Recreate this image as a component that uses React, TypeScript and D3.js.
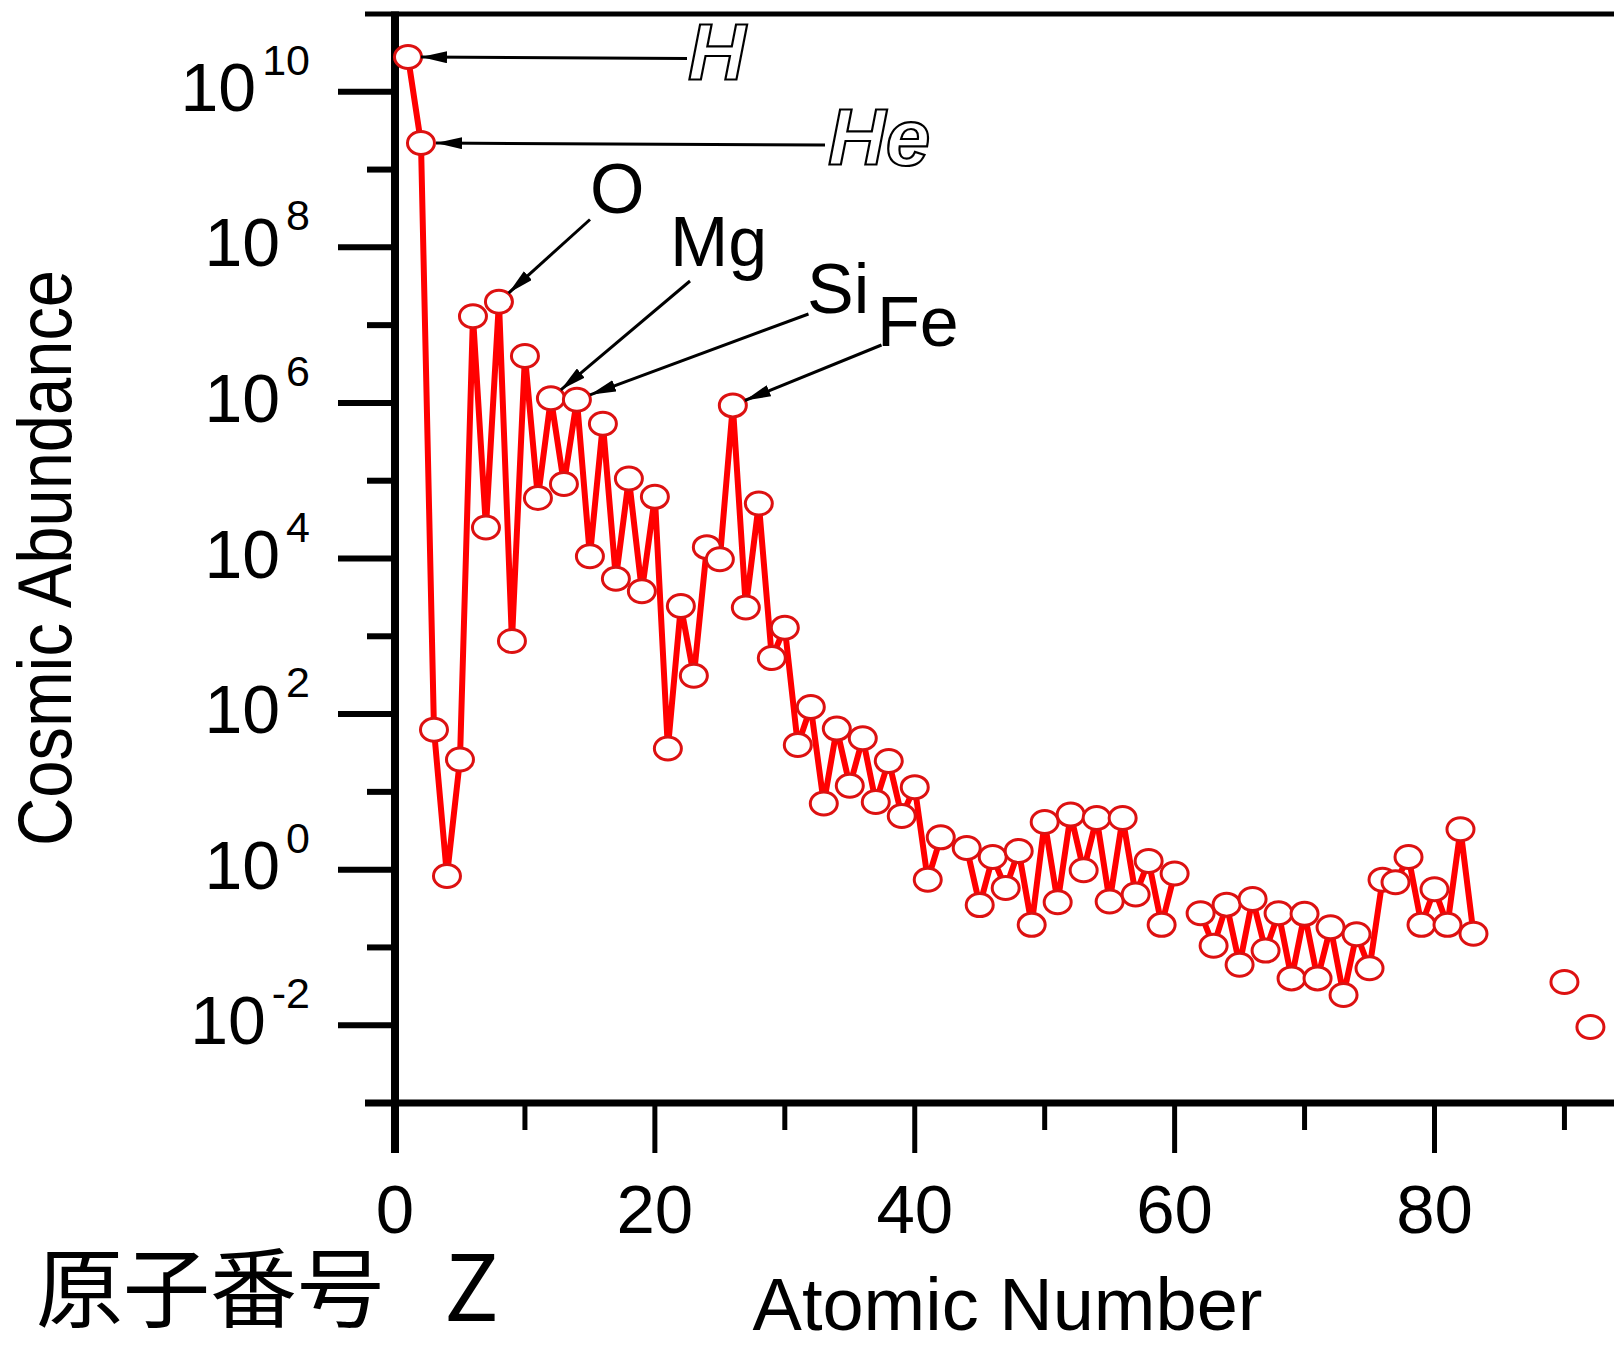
import { useRef, useEffect } from 'react';
import * as d3 from 'd3';

// atomic number and abundance (Si = 10^6)
const atomicNumber = [
  1, 2, 3, 4, 5, 6, 7, 8, 9, 10, 11, 12, 13, 14, 15, 16, 17, 18, 19, 20,
  21, 22, 23, 24, 25, 26, 27, 28, 29, 30, 31, 32, 33, 34, 35, 36, 37, 38, 39, 40,
  41, 42, 44, 45, 46, 47, 48, 49, 50, 51, 52, 53, 54, 55, 56, 57, 58, 59, 60,
  62, 63, 64, 65, 66, 67, 68, 69, 70, 71, 72, 73, 74, 75, 76, 77, 78, 79, 80,
  81, 82, 83, 90, 92,
];
const abundance = [
  2.8e10, 2.2e9, 63, 0.83, 26, 1.3e7, 2.5e4, 2.0e7, 870, 4.0e6,
  6.0e4, 1.15e6, 9.1e4, 1.1e6, 1.07e4, 5.4e5, 5500, 1.07e5, 3800, 6.2e4,
  36, 2450, 310, 1.4e4, 9800, 9.3e5, 2340, 5.1e4, 525, 1290,
  40, 123, 7.1, 65, 12, 49, 7.4, 25, 4.9, 11.5,
  0.74, 2.6, 1.9, 0.35, 1.45, 0.58, 1.74, 0.195, 4.1, 0.38,
  5.1, 0.98, 4.6, 0.39, 4.6, 0.48, 1.29, 0.195, 0.89,
  0.275, 0.105, 0.355, 0.06, 0.42, 0.091, 0.275, 0.04, 0.27, 0.04,
  0.182, 0.0245, 0.148, 0.054, 0.74, 0.69, 1.45, 0.195, 0.56,
  0.195, 3.3, 0.15, 0.036, 0.0095,
];

const yTickExponents = [10, 8, 6, 4, 2, 0, -2];
const xTickLabels = [0, 20, 40, 60, 80];

const labelText = ['H', 'He', 'O', 'Mg', 'Si', 'Fe'];
const labelZ = [1, 2, 8, 12, 14, 26];

const W = 1614;
const H = 1346;

export default function App() {
  const svgRef = useRef(null);

  useEffect(() => {
    const svg = d3.select(svgRef.current);
    svg.selectAll('*').remove();

    const font = "'Liberation Sans', Arial, Helvetica, sans-serif";
    const cjk = "'Noto Sans CJK JP', 'Noto Sans CJK SC', sans-serif";
    const x = d3.scaleLinear().domain([0, 80]).range([395, 1434.5]);
    const y = d3.scaleLog().domain([1e-3, 1e11]).range([1103, 14]);
    const axisY = y(1e-3);

    svg.append('rect').attr('width', W).attr('height', H).attr('fill', '#fff');

    const defs = svg.append('defs');
    defs.append('marker')
      .attr('id', 'arrow')
      .attr('viewBox', '0 0 26 12')
      .attr('refX', 26).attr('refY', 6)
      .attr('markerWidth', 26).attr('markerHeight', 12)
      .attr('markerUnits', 'userSpaceOnUse')
      .attr('orient', 'auto')
      .append('path')
      .attr('d', 'M0,0L26,6L0,12Z')
      .attr('fill', '#000');

    // frame
    const frame = svg.append('g').attr('stroke', '#000');
    frame.append('line')
      .attr('x1', 365).attr('x2', W)
      .attr('y1', y(1e11)).attr('y2', y(1e11))
      .attr('stroke-width', 5);
    frame.append('line')
      .attr('x1', 365).attr('x2', W)
      .attr('y1', axisY).attr('y2', axisY)
      .attr('stroke-width', 7);
    frame.append('line')
      .attr('x1', x(0)).attr('x2', x(0))
      .attr('y1', 11.5).attr('y2', axisY + 50)
      .attr('stroke-width', 8);

    // y ticks
    const yTicks = d3.range(-2, 11, 1);
    frame.selectAll('line.ytick')
      .data(yTicks)
      .join('line')
      .attr('class', 'ytick')
      .attr('x1', d => (d % 2 === 0 ? 338 : 367))
      .attr('x2', x(0))
      .attr('y1', d => y(Math.pow(10, d)))
      .attr('y2', d => y(Math.pow(10, d)))
      .attr('stroke-width', 6);

    // x ticks
    frame.selectAll('line.xtick')
      .data(d3.range(10, 100, 10))
      .join('line')
      .attr('class', 'xtick')
      .attr('x1', d => x(d)).attr('x2', d => x(d))
      .attr('y1', axisY)
      .attr('y2', d => axisY + (d % 20 === 0 ? 50 : 27))
      .attr('stroke-width', 5);

    // x tick labels
    svg.append('g')
      .selectAll('text')
      .data(xTickLabels)
      .join('text')
      .attr('x', d => x(d))
      .attr('y', 1233)
      .attr('text-anchor', 'middle')
      .attr('font-family', font)
      .attr('font-size', 69)
      .text(d => d);

    // y tick labels 10^n
    const yLab = svg.append('g')
      .selectAll('text')
      .data(yTickExponents)
      .join('text')
      .attr('x', 310)
      .attr('y', d => y(Math.pow(10, d)) + 19)
      .attr('text-anchor', 'end')
      .attr('font-family', font);
    yLab.append('tspan').attr('font-size', 68).text('10');
    yLab.append('tspan')
      .attr('font-size', 43)
      .attr('dx', 6)
      .attr('dy', -36)
      .text(d => d);

    // axis titles
    svg.append('text')
      .attr('transform', 'translate(71,558) rotate(-90)')
      .attr('text-anchor', 'middle')
      .attr('font-family', font)
      .attr('font-size', 76)
      .attr('textLength', 576)
      .attr('lengthAdjust', 'spacingAndGlyphs')
      .text('Cosmic Abundance');

    svg.append('text')
      .attr('x', 1007.5)
      .attr('y', 1330)
      .attr('text-anchor', 'middle')
      .attr('font-family', font)
      .attr('font-size', 74)
      .text('Atomic Number');

    svg.append('text')
      .attr('x', 36)
      .attr('y', 1321)
      .attr('font-family', cjk)
      .attr('font-size', 87)
      .text('原子番号');
    svg.append('text')
      .attr('x', 444)
      .attr('y', 1321)
      .attr('font-family', cjk)
      .attr('font-size', 91)
      .text('Z');

    // data: fill a 1..92 series with gaps for missing elements
    const byZ = new Map(atomicNumber.map((z, i) => [z, abundance[i]]));
    const series = d3.range(1, 93).map(z => ({ z, v: byZ.has(z) ? byZ.get(z) : null }));
    const points = atomicNumber.map((z, i) => ({ z, v: abundance[i] }));

    const line = d3.line()
      .defined(d => d.v != null)
      .x(d => x(d.z))
      .y(d => y(d.v));

    svg.append('path')
      .datum(series)
      .attr('d', line)
      .attr('fill', 'none')
      .attr('stroke', '#ff0000')
      .attr('stroke-width', 6);

    svg.append('g')
      .selectAll('ellipse')
      .data(points)
      .join('ellipse')
      .attr('cx', d => x(d.z))
      .attr('cy', d => y(d.v))
      .attr('rx', 13.5)
      .attr('ry', 11.5)
      .attr('fill', '#fff')
      .attr('stroke', '#dd1111')
      .attr('stroke-width', 3);

    // annotation arrows: tail near label, tip at the marker edge
    const tails = [[687, 58.5], [825, 145], [590, 219.5], [690, 281], [808.5, 314], [881.5, 345]];
    const tipGap = [13, 15, 13, 13, 14, 13];
    labelZ.forEach((z, i) => {
      const px = x(z);
      const py = y(byZ.get(z));
      const [tx, ty] = tails[i];
      const len = Math.hypot(tx - px, ty - py);
      const ex = px + ((tx - px) / len) * tipGap[i];
      const ey = py + ((ty - py) / len) * tipGap[i];
      svg.append('line')
        .attr('x1', tx).attr('y1', ty)
        .attr('x2', ex).attr('y2', ey)
        .attr('stroke', '#000')
        .attr('stroke-width', 3)
        .attr('marker-end', 'url(#arrow)');
    });

    // outlined italic labels for H and He
    const outlinePos = [[688, 80], [828, 165]];
    outlinePos.forEach(([lx, ly], i) => {
      svg.append('text')
        .attr('x', lx).attr('y', ly)
        .attr('font-family', font)
        .attr('font-size', 80)
        .attr('font-style', 'italic')
        .attr('font-weight', 'bold')
        .attr('fill', '#fff')
        .attr('stroke', '#000')
        .attr('stroke-width', 2.2)
        .text(labelText[i]);
    });

    const plainPos = [[590, 213], [670, 265.5], [807, 313], [877, 345.5]];
    plainPos.forEach(([lx, ly], i) => {
      svg.append('text')
        .attr('x', lx).attr('y', ly)
        .attr('font-family', font)
        .attr('font-size', 70)
        .attr('fill', '#000')
        .text(labelText[i + 2]);
    });
  }, []);

  return (
    <svg
      ref={svgRef}
      width={W}
      height={H}
      style={{ position: 'absolute', left: 0, top: 0, background: '#fff' }}
    />
  );
}
